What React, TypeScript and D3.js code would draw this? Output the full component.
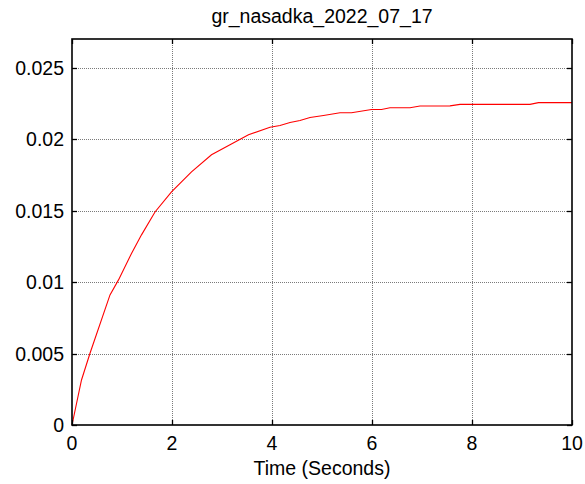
import { useEffect, useRef } from "react";
import * as d3 from "d3";

const title = "gr_nasadka_2022_07_17";
const xLabel = "Time (Seconds)";

// samples
const timeS = [
  0, 0.19, 0.36, 0.76, 0.93, 1.19, 1.39, 1.66, 1.99, 2.39, 2.79, 3.16, 3.53,
  3.96, 4.16, 4.36, 4.56, 4.76, 5.03, 5.36, 5.59, 5.99, 6.19, 6.36, 6.76,
  6.96, 7.56, 7.76, 9.16, 9.33, 10,
];
const response = [
  0, 0.00315, 0.00502, 0.0091, 0.01015, 0.012, 0.0133, 0.0149, 0.0163,
  0.0177, 0.0189, 0.0196, 0.0203, 0.02083, 0.02095, 0.02116, 0.0213, 0.02151,
  0.02165, 0.02184, 0.02184, 0.02207, 0.02207, 0.02219, 0.02219, 0.02231,
  0.02232, 0.02243, 0.02243, 0.02255, 0.02255,
];

const xDomain = [0, 10];
const yDomain = [0, 0.027];
const xTicks = [0, 2, 4, 6, 8, 10];
const yTicks = [0, 0.005, 0.01, 0.015, 0.02, 0.025];
const yTickLabels = ["0", "0.005", "0.01", "0.015", "0.02", "0.025"];

export default function App() {
  const svgRef = useRef<SVGSVGElement>(null);

  useEffect(() => {
    const width = 585;
    const height = 484;
    const left = 72, right = 572, top = 39, bottom = 425;
    const font = "Liberation Sans, Arial, sans-serif";
    const fs = 19.5;
    const tickLen = 5;

    const svg = d3.select(svgRef.current);
    svg.selectAll("*").remove();
    svg.attr("width", width).attr("height", height);

    svg.append("rect").attr("width", width).attr("height", height).attr("fill", "#fff");

    const x = d3.scaleLinear().domain(xDomain).range([left, right]);
    const y = d3.scaleLinear().domain(yDomain).range([bottom, top]);

    const g = svg.append("g");

    // dotted grid
    g.selectAll("line.gx")
      .data(xTicks.slice(1, -1))
      .join("line")
      .attr("x1", d => x(d) + 0.5)
      .attr("x2", d => x(d) + 0.5)
      .attr("y1", top)
      .attr("y2", bottom)
      .attr("stroke", "#7a7a7a")
      .attr("stroke-width", 1)
      .attr("stroke-dasharray", "1 1");

    g.selectAll("line.gy")
      .data(yTicks.slice(1))
      .join("line")
      .attr("x1", left)
      .attr("x2", right)
      .attr("y1", d => Math.round(y(d)) + 0.5)
      .attr("y2", d => Math.round(y(d)) + 0.5)
      .attr("stroke", "#7a7a7a")
      .attr("stroke-width", 1)
      .attr("stroke-dasharray", "1 1");

    // curve
    const pts: [number, number][] = timeS.map((t, i) => [t, response[i]]);
    g.append("path")
      .datum(pts)
      .attr("fill", "none")
      .attr("stroke", "#ff0000")
      .attr("stroke-width", 1.1)
      .attr("d", d3.line<[number, number]>().x(d => x(d[0])).y(d => y(d[1])));

    // inner ticks on all four sides
    xTicks.forEach(t => {
      const px = Math.round(x(t)) + 0.5;
      g.append("line").attr("x1", px).attr("x2", px).attr("y1", bottom).attr("y2", bottom - tickLen)
        .attr("stroke", "#000").attr("stroke-width", 1.3);
      g.append("line").attr("x1", px).attr("x2", px).attr("y1", top).attr("y2", top + tickLen)
        .attr("stroke", "#000").attr("stroke-width", 1.3);
    });
    yTicks.forEach(t => {
      const py = Math.round(y(t)) + 0.5;
      g.append("line").attr("x1", left).attr("x2", left + tickLen).attr("y1", py).attr("y2", py)
        .attr("stroke", "#000").attr("stroke-width", 1.3);
      g.append("line").attr("x1", right).attr("x2", right - tickLen).attr("y1", py).attr("y2", py)
        .attr("stroke", "#000").attr("stroke-width", 1.3);
    });

    // box
    g.append("rect")
      .attr("x", left)
      .attr("y", top)
      .attr("width", right - left)
      .attr("height", bottom - top)
      .attr("fill", "none")
      .attr("stroke", "#000")
      .attr("stroke-width", 1.6);

    // tick labels
    g.selectAll("text.xt")
      .data(xTicks)
      .join("text")
      .attr("x", d => x(d))
      .attr("y", bottom + 25)
      .attr("text-anchor", "middle")
      .attr("font-family", font)
      .attr("font-size", fs)
      .attr("fill", "#000")
      .text(d => String(d));

    g.selectAll("text.yt")
      .data(yTicks)
      .join("text")
      .attr("x", left - 8)
      .attr("y", d => y(d) + 7)
      .attr("text-anchor", "end")
      .attr("font-family", font)
      .attr("font-size", fs)
      .attr("fill", "#000")
      .text((d, i) => yTickLabels[i]);

    svg.append("text")
      .attr("x", (left + right) / 2)
      .attr("y", 23)
      .attr("text-anchor", "middle")
      .attr("font-family", font)
      .attr("font-size", fs)
      .attr("fill", "#000")
      .text(title);

    svg.append("text")
      .attr("x", (left + right) / 2)
      .attr("y", 475)
      .attr("text-anchor", "middle")
      .attr("font-family", font)
      .attr("font-size", fs)
      .attr("fill", "#000")
      .text(xLabel);
  }, []);

  return <svg ref={svgRef} style={{ position: "absolute", left: 0, top: 0, display: "block" }} />;
}
